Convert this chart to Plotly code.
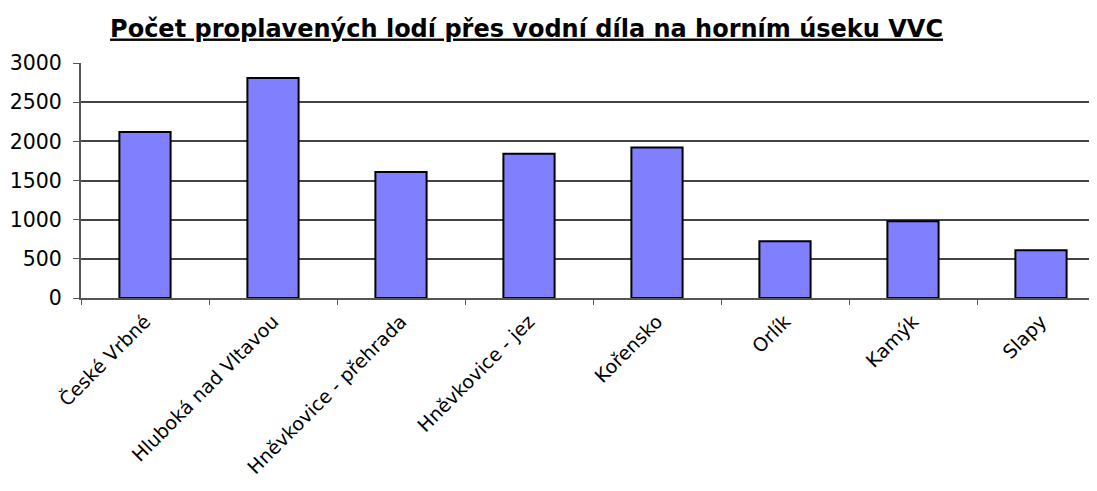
import plotly.graph_objects as go

categories = ["České Vrbné", "Hluboká nad Vltavou", "Hněvkovice - přehrada",
              "Hněvkovice - jez", "Kořensko", "Orlík", "Kamýk", "Slapy"]
values = [2120, 2810, 1610, 1840, 1920, 725, 980, 610]
y_ticks = [0, 500, 1000, 1500, 2000, 2500, 3000]

FONT = "DejaVu Sans, Verdana, Arial"

fig = go.Figure(go.Bar(
    x=categories, y=values, width=0.4,
    marker=dict(color="#8080FF", line=dict(color="#000000", width=2)),
))

fig.update_layout(
    width=1097, height=491,
    paper_bgcolor="white", plot_bgcolor="white",
    margin=dict(l=73, r=0, t=55, b=201),
    showlegend=False,
    title=dict(text="<b><u>Počet proplavených lodí přes vodní díla na horním úseku VVC</u></b>",
               x=0.4727, xanchor="center", y=0.959, yanchor="middle",
               font=dict(family=FONT, size=24, color="#000000")),
    font=dict(family=FONT, size=20, color="#000000"),
)
fig.update_xaxes(
    range=[-0.5, 7.5], tickangle=-45, tickson="boundaries",
    ticks="outside", ticklen=5, tickcolor="#555555",
    showline=True, linecolor="#555555", linewidth=2,
    showgrid=False, tickfont=dict(size=19), automargin=False,
    ticklabelstandoff=3,
)
fig.update_yaxes(
    range=[0, 3000], tickvals=y_ticks, ticks="outside", ticklen=6, tickcolor="#555555",
    showline=True, linecolor="#555555", linewidth=2,
    showgrid=True, gridcolor="#444444", gridwidth=1.5,
    tickfont=dict(size=20.5), zeroline=False, automargin=False,
    ticklabelstandoff=7,
)

fig.write_html("out.html")
